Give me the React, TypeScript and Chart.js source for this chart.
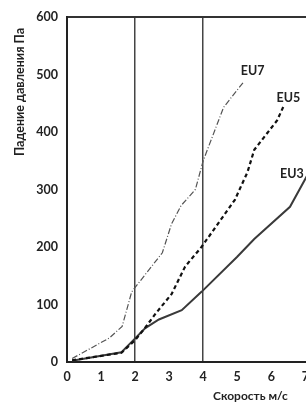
import React, { useEffect, useRef } from "react";
import { Chart, registerables } from "chart.js";
Chart.register(...registerables);

const xTicks = [0, 1, 2, 3, 4, 5, 6, 7, 8];
const yTicks = [0, 100, 200, 300, 400, 500, 600];
const eu7 = [
  { x: 0.15, y: 6 }, { x: 1.25, y: 42 }, { x: 1.62, y: 62 }, { x: 1.9, y: 122 },
  { x: 2.8, y: 190 }, { x: 3.07, y: 240 }, { x: 3.35, y: 272 }, { x: 3.77, y: 300 },
  { x: 4.0, y: 350 }, { x: 4.6, y: 443 }, { x: 5.2, y: 488 },
];
const eu5 = [
  { x: 0.15, y: 3 }, { x: 1.6, y: 16 }, { x: 2.0, y: 38 }, { x: 2.3, y: 60 },
  { x: 2.6, y: 84 }, { x: 3.07, y: 118 }, { x: 3.47, y: 166 }, { x: 3.95, y: 200 },
  { x: 4.93, y: 282 }, { x: 5.3, y: 330 }, { x: 5.5, y: 369 }, { x: 6.17, y: 420 },
  { x: 6.37, y: 446 },
];
const eu3 = [
  { x: 0.15, y: 2 }, { x: 1.6, y: 17 }, { x: 1.9, y: 35 }, { x: 2.3, y: 59 },
  { x: 2.7, y: 74 }, { x: 3.37, y: 90 }, { x: 3.95, y: 122 }, { x: 5.0, y: 183 },
  { x: 5.5, y: 214 }, { x: 6.55, y: 270 }, { x: 7.2, y: 340 },
];
const seriesLabels = [
  { text: "EU7", x: 5.4, y: 507 },
  { text: "EU5", x: 6.45, y: 460 },
  { text: "EU3", x: 6.55, y: 327 },
];
const yTitle = "Падение давления Па";
const xTitle = "Скорость м/с";

const FONT = "Lato";

export default function App() {
  const ref = useRef<HTMLCanvasElement>(null);
  useEffect(() => {
    const labelPlugin = {
      id: "labels",
      afterDraw(chart: any) {
        const { ctx, scales } = chart;
        ctx.save();
        ctx.fillStyle = "#222";
        ctx.font = `bold 12.5px ${FONT}`;
        ctx.textAlign = "left";
        ctx.textBaseline = "middle";
        seriesLabels.forEach((l) => {
          ctx.fillText(l.text, scales.x.getPixelForValue(l.x) - 10, scales.y.getPixelForValue(l.y));
        });
        ctx.font = `bold 12px ${FONT}`;
        ctx.fillText(xTitle, 213, 396);
        ctx.translate(20, 92);
        ctx.rotate(-Math.PI / 2);
        ctx.textAlign = "center";
        ctx.font = `bold 12.5px ${FONT}`;
        ctx.fillText(yTitle, 0, 0);
        ctx.restore();
      },
    };
    const chart = new Chart(ref.current!, {
      type: "line",
      data: {
        datasets: [
          { label: "EU7", data: eu7, borderColor: "#555", borderWidth: 1.2, borderDash: [6, 2, 1, 2], pointRadius: 0, tension: 0 },
          { label: "EU5", data: eu5, borderColor: "#111", borderWidth: 2.2, borderDash: [4, 3], pointRadius: 0, tension: 0 },
          { label: "EU3", data: eu3, borderColor: "#3a3a3a", borderWidth: 2, pointRadius: 0, tension: 0 },
        ],
      },
      options: {
        animation: false,
        responsive: false,
        layout: { padding: { top: 17, right: 7, left: 0, bottom: 0 } },
        plugins: { legend: { display: false }, tooltip: { enabled: false } },
        scales: {
          x: {
            type: "linear",
            min: 0,
            max: 8,
            afterFit: (s: any) => { s.height = 41; },
            afterBuildTicks: (s: any) => { s.ticks = xTicks.map((v) => ({ value: v })); },
            ticks: { padding: 7, color: "#222", font: { family: FONT, size: 12.5, weight: "bold" } },
            grid: {
              drawTicks: false,
              color: (c: any) => (c.tick && (c.tick.value === 2 || c.tick.value === 4) ? "#444" : "rgba(0,0,0,0)"),
              lineWidth: 1.5,
            },
            border: { color: "#222", width: 2 },
          },
          y: {
            min: 0,
            max: 600,
            afterFit: (s: any) => { s.width = 67; },
            afterBuildTicks: (s: any) => { s.ticks = yTicks.map((v) => ({ value: v })); },
            ticks: { padding: 9, color: "#222", font: { family: FONT, size: 12.5, weight: "bold" } },
            grid: {
              drawTicks: false,
              color: (c: any) => (c.tick && c.tick.value === 600 ? "#333" : "rgba(0,0,0,0)"),
              lineWidth: 2,
            },
            border: { color: "#222", width: 2 },
          },
        },
      },
      plugins: [labelPlugin],
    });
    return () => chart.destroy();
  }, []);
  return (
    <div style={{ position: "fixed", left: 0, top: 0, width: 306, height: 403, overflow: "hidden", background: "#fff" }}>
      <canvas ref={ref} width={350} height={403} style={{ display: "block" }} />
    </div>
  );
}
